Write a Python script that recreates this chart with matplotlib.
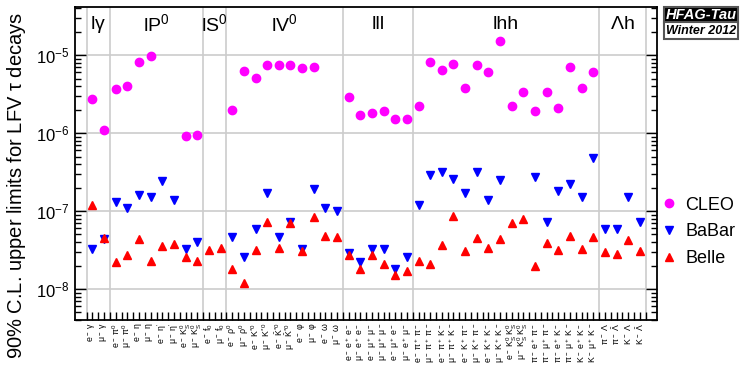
import numpy as np
import matplotlib
matplotlib.use("Agg")
import matplotlib.pyplot as plt
from matplotlib.ticker import LogLocator, FixedLocator, NullFormatter
from matplotlib.patches import Rectangle

plt.rcParams['font.family'] = ['Liberation Sans', 'DejaVu Sans']
plt.rcParams['mathtext.fontset'] = 'custom'
plt.rcParams['mathtext.rm'] = 'Liberation Sans'
plt.rcParams['mathtext.it'] = 'Liberation Sans'
plt.rcParams['mathtext.bf'] = 'Liberation Sans:bold'

nan = np.nan

groups = [r"l$\gamma$", r"lP$^0$", r"lS$^0$", r"lV$^0$", "lll", "lhh", r"$\Lambda$h"]
group_sizes = [2, 8, 2, 10, 6, 16, 4]

channels = [
    r"$e^-\;\gamma$", r"$\mu^-\;\gamma$",
    r"$e^-\;\pi^0$", r"$\mu^-\;\pi^0$", r"$e^-\;\eta$", r"$\mu^-\;\eta$", r"$e^-\;\eta'$", r"$\mu^-\;\eta'$",
    r"$e^-\;K_S^0$", r"$\mu^-\;K_S^0$",
    r"$e^-\;f_0$", r"$\mu^-\;f_0$",
    r"$e^-\;\rho^0$", r"$\mu^-\;\rho^0$", r"$e^-\;K^{*0}$", r"$\mu^-\;K^{*0}$", r"$e^-\;\bar{K}^{*0}$", r"$\mu^-\;\bar{K}^{*0}$",
    r"$e^-\;\varphi$", r"$\mu^-\;\varphi$", r"$e^-\;\omega$", r"$\mu^-\;\omega$",
    r"$e^-\;e^+\;e^-$", r"$\mu^-\;e^+\;e^-$", r"$e^-\;\mu^+\;\mu^-$", r"$\mu^-\;\mu^+\;\mu^-$", r"$e^-\;\mu^+\;e^-$", r"$\mu^-\;e^+\;\mu^-$",
    r"$e^-\;\pi^+\;\pi^-$", r"$\mu^-\;\pi^+\;\pi^-$", r"$e^-\;\pi^+\;K^-$", r"$\mu^-\;\pi^+\;K^-$", r"$e^-\;K^+\;\pi^-$", r"$\mu^-\;K^+\;\pi^-$",
    r"$e^-\;K^+\;K^-$", r"$\mu^-\;K^+\;K^-$", r"$e^-\;K_S^0\;K_S^0$", r"$\mu^-\;K_S^0\;K_S^0$",
    r"$\pi^-\;e^+\;\pi^-$", r"$\pi^-\;\mu^+\;\pi^-$", r"$\pi^-\;e^+\;K^-$", r"$\pi^-\;\mu^+\;K^-$", r"$K^-\;e^+\;K^-$", r"$K^-\;\mu^+\;K^-$",
    r"$\pi^-\;\Lambda$", r"$\pi^-\;\bar{\Lambda}$", r"$K^-\;\Lambda$", r"$K^-\;\bar{\Lambda}$",
]

cleo = [2.7e-6, 1.1e-6, 3.7e-6, 4.0e-6, 8.2e-6, 9.6e-6, nan, nan, 9.1e-7, 9.5e-7,
        nan, nan,
        2.0e-6, 6.3e-6, 5.1e-6, 7.5e-6, 7.4e-6, 7.5e-6, 6.9e-6, 7.0e-6, nan, nan,
        2.9e-6, 1.7e-6, 1.8e-6, 1.9e-6, 1.5e-6, 1.5e-6,
        2.2e-6, 8.2e-6, 6.4e-6, 7.6e-6, 3.8e-6, 7.4e-6, 6.0e-6, 1.5e-5, 2.2e-6, 3.4e-6,
        1.9e-6, 3.4e-6, 2.1e-6, 7.0e-6, 3.8e-6, 6.0e-6,
        nan, nan, nan, nan]

babar = [3.3e-8, 4.4e-8, 1.3e-7, 1.1e-7, 1.6e-7, 1.5e-7, 2.4e-7, 1.4e-7, 3.3e-8, 4.0e-8,
         nan, nan,
         4.6e-8, 2.6e-8, 5.9e-8, 1.7e-7, 4.6e-8, 7.3e-8, 3.3e-8, 1.9e-7, 1.1e-7, 1.0e-7,
         2.9e-8, 2.2e-8, 3.3e-8, 3.3e-8, 1.8e-8, 2.6e-8,
         1.2e-7, 2.9e-7, 3.2e-7, 2.6e-7, 1.7e-7, 3.2e-7, 1.4e-7, 2.5e-7, nan, nan,
         2.7e-7, 7.3e-8, 1.8e-7, 2.2e-7, 1.5e-7, 4.8e-7,
         5.8e-8, 5.9e-8, 1.5e-7, 7.2e-8]

belle = [1.2e-7, 4.5e-8, 2.2e-8, 2.7e-8, 4.4e-8, 2.3e-8, 3.6e-8, 3.8e-8, 2.6e-8, 2.3e-8,
         3.2e-8, 3.4e-8,
         1.8e-8, 1.2e-8, 3.2e-8, 7.2e-8, 3.4e-8, 7.0e-8, 3.1e-8, 8.4e-8, 4.8e-8, 4.7e-8,
         2.7e-8, 1.8e-8, 2.7e-8, 2.1e-8, 1.5e-8, 1.7e-8,
         2.3e-8, 2.1e-8, 3.7e-8, 8.6e-8, 3.1e-8, 4.5e-8, 3.4e-8, 4.4e-8, 7.1e-8, 8.0e-8,
         2.0e-8, 3.9e-8, 3.2e-8, 4.8e-8, 3.3e-8, 4.7e-8,
         3.0e-8, 2.8e-8, 4.2e-8, 3.1e-8]

n = len(channels)
x = np.arange(n)

fig = plt.figure(figsize=(7.47, 3.86), dpi=100)
ax = fig.add_axes([75/747, 1-320/386, (657.3-75)/747, (320-7.3)/386])

ax.set_yscale('log')
ax.set_xlim(-1.5, n - 0.5 + 1.0)
ax.set_ylim(4e-9, 4.1e-5)

# group boundaries
edges = np.concatenate([[0], np.cumsum(group_sizes)]) - 0.5
for e in edges:
    ax.axvline(e, color='#cccccc', lw=1.2, zorder=0)
ax.yaxis.grid(True, which='major', color='#cccccc', lw=1.2, zorder=0)

ms = 6.0
ax.plot(x, cleo, 'o', color='#ff00ff', ms=ms, mec='#ff00ff', ls='none', label='CLEO', zorder=3)
ax.plot(x, babar, 'v', color='#0000ff', ms=ms, mec='#0000ff', ls='none', label='BaBar', zorder=3)
ax.plot(x, belle, '^', color='#ff0000', ms=ms, mec='#ff0000', ls='none', label='Belle', zorder=3)

# group labels
centers = (edges[:-1] + edges[1:]) / 2
for c, g in zip(centers, groups):
    ax.text(c, 0.945, g, transform=ax.get_xaxis_transform(), ha='center', va='center',
            fontsize=14)

# ticks
ax.xaxis.set_major_locator(FixedLocator(x))
ax.xaxis.set_minor_locator(FixedLocator(np.arange(-0.5, n, 1.0)))
ax.set_xticklabels(channels, rotation=90, fontsize=6.3, va='top', ha='center')
ax.tick_params(axis='x', which='both', direction='in', length=6, width=1, top=False, pad=2)
ax.yaxis.set_major_locator(LogLocator(base=10, numticks=10))
ax.yaxis.set_minor_locator(LogLocator(base=10, subs=np.arange(2, 10), numticks=20))
ax.yaxis.set_minor_formatter(NullFormatter())
ax.tick_params(axis='y', which='major', direction='in', length=8, width=1, right=True, labelsize=12, pad=4)
ax.tick_params(axis='y', which='minor', direction='in', length=4.5, width=1, right=True)
for s in ax.spines.values():
    s.set_linewidth(1.3)

ax.set_ylabel(r"90% C.L. upper limits for LFV $\tau$ decays", fontsize=14.5)
ax.yaxis.set_label_coords((28-75)/582.3, (320-185)/312.7)

leg = ax.legend(loc='center left', bbox_to_anchor=(662/747, 1-232/386), bbox_transform=fig.transFigure,
                frameon=False, fontsize=13, handlelength=0.8, handletextpad=0.5, labelspacing=0.55,
                borderaxespad=0, borderpad=0)

# HFAG box
x0, x1 = 664/747, 738/747
ytop, ymid, ybot = 1-7.3/386, 1-22.5/386, 1-39/386
fig.patches.append(Rectangle((x0, ymid), x1-x0, ytop-ymid, transform=fig.transFigure,
                             facecolor='black', edgecolor='#555555', lw=1.5))
fig.patches.append(Rectangle((x0, ybot), x1-x0, ymid-ybot, transform=fig.transFigure,
                             facecolor='white', edgecolor='#555555', lw=1.5))
fig.text((x0+x1)/2, (ytop+ymid)/2, "HFAG-Tau", color='white', fontsize=10.5, fontweight='bold',
         fontstyle='italic', ha='center', va='center')
fig.text((x0+x1)/2, (ymid+ybot)/2, "Winter 2012", color='black', fontsize=9, fontweight='bold',
         fontstyle='italic', ha='center', va='center')

fig.savefig("out.png", dpi=100)
